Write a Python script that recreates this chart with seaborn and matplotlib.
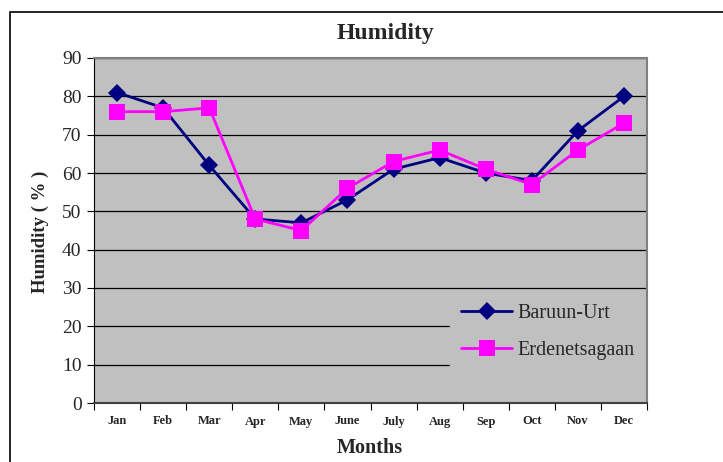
import pandas as pd
import seaborn as sns
import matplotlib.pyplot as plt
from matplotlib.patches import Rectangle

months = ['Jan', 'Feb', 'Mar', 'Apr', 'May', 'June', 'July', 'Aug', 'Sep', 'Oct', 'Nov', 'Dec']
baruun_urt = [81, 77, 62, 48, 47, 53, 61, 64, 60, 58, 71, 80]
erdenetsagaan = [76, 76, 77, 48, 45, 56, 63, 66, 61, 57, 66, 73]
y_ticks = [0, 10, 20, 30, 40, 50, 60, 70, 80, 90]

df = pd.DataFrame({
    'idx': list(range(len(months))) * 2,
    'humidity': baruun_urt + erdenetsagaan,
    'station': ['Baruun-Urt'] * 12 + ['Erdenetsagaan'] * 12,
})

sns.set_style('white')
plt.rcParams['font.family'] = ['Liberation Serif', 'DejaVu Serif']

fig = plt.figure(figsize=(7.23, 4.62), dpi=100)
ax = fig.add_axes([94 / 723, 1 - 403 / 462, (647 - 94) / 723, (403 - 58) / 462])
ax.set_facecolor('#c0c0c0')

# outer chart border, clipped by the image edges
fig.patches.append(Rectangle((10 / 723, -0.1), 1.2, 1 - 12 / 462 + 0.1, transform=fig.transFigure,
                             fill=False, edgecolor='black', lw=1.2))

sns.lineplot(data=df, x='idx', y='humidity', hue='station', style='station',
             palette={'Baruun-Urt': '#000080', 'Erdenetsagaan': '#ff00ff'},
             markers={'Baruun-Urt': 'D', 'Erdenetsagaan': 's'}, dashes=False,
             markersize=9, markeredgewidth=0, linewidth=2, ax=ax, zorder=3)
# bigger squares for the magenta series
for line in ax.lines:
    if line.get_marker() == 's':
        line.set_markersize(11)

ax.set_ylim(0, 90)
ax.set_yticks(y_ticks)
ax.set_yticklabels([str(v) for v in y_ticks], fontsize=14)
ax.grid(axis='y', color='black', lw=0.9)
ax.set_axisbelow(True)

ax.set_xlim(-0.5, 11.5)
ax.set_xticks([i - 0.5 for i in range(13)])
ax.set_xticklabels([])
ax.set_xticks(list(range(12)), minor=True)
ax.set_xticklabels(months, minor=True, fontsize=9, fontweight='bold')
ax.tick_params(axis='x', which='major', direction='out', length=5, color='black', bottom=True)
ax.tick_params(axis='x', which='minor', length=0, pad=9)
ax.tick_params(axis='y', direction='out', length=5, color='black', left=True, pad=4)

for side in ['top', 'right']:
    ax.spines[side].set_color('#808080')
    ax.spines[side].set_linewidth(1.5)
ax.spines['left'].set_color('black')
ax.spines['bottom'].set_color('#404040')
ax.spines['bottom'].set_linewidth(1.5)

ax.set_xlabel('')
ax.set_ylabel('')
fig.text(40 / 723, 1 - 232 / 462, 'Humidity ( % )', rotation=90, ha='center', va='center',
         fontsize=13.5, fontweight='bold')
fig.text(370 / 723, 1 - 448 / 462, 'Months', ha='center', va='center', fontsize=14.5, fontweight='bold')
fig.text(385 / 723, 1 - 33 / 462, 'Humidity', ha='center', va='center', fontsize=17, fontweight='bold')

leg = ax.legend(loc='upper left', bbox_to_anchor=((450 - 94) / 553, (403 - 293) / 345),
                frameon=True, fontsize=14.5, handlelength=2.55, labelspacing=0.9,
                borderpad=0.55, handletextpad=0.25, borderaxespad=0)
leg.get_frame().set_facecolor('#c0c0c0')
leg.get_frame().set_edgecolor('#c0c0c0')
leg.get_frame().set_alpha(1)
leg.get_frame().set_boxstyle('square', pad=0)
leg.set_zorder(2.4)

fig.savefig('out.png', dpi=100)
